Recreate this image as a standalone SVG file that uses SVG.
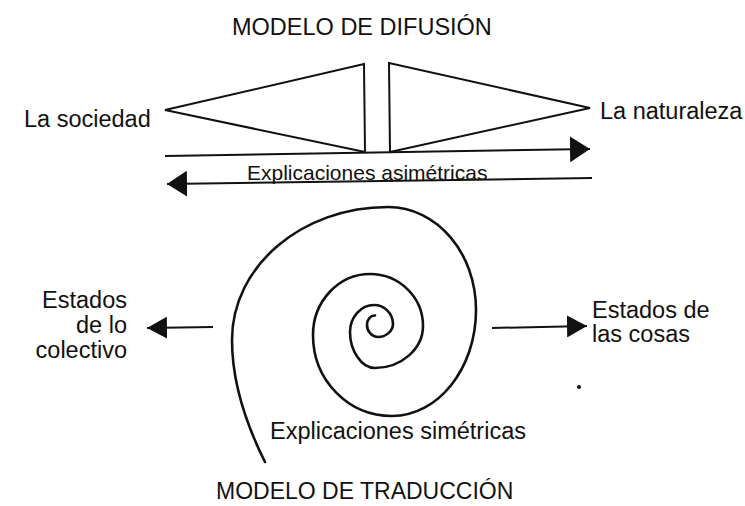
<svg xmlns="http://www.w3.org/2000/svg" width="745" height="506" viewBox="0 0 745 506">
  <style>
    .t { font-family: "Liberation Sans", Arial, Helvetica, sans-serif; font-size: 23.5px; fill: #111; }
    .s { font-size: 21px; }
    .b { font-size: 23px; }
    .ln { stroke: #111; stroke-width: 2; fill: none; }
    .sp { stroke: #111; stroke-width: 2.6; fill: none; stroke-linecap: round; }
    .tri { stroke: #111; stroke-width: 2; fill: none; stroke-linejoin: miter; }
  </style>
  <defs>
    <marker id="ah" viewBox="0 0 20 22" refX="20" refY="11" markerWidth="20" markerHeight="22" markerUnits="userSpaceOnUse" orient="auto">
      <path d="M0,0 L20,11 L0,22 z" fill="#111"/>
    </marker>
    <marker id="ahL" viewBox="0 0 20 26" refX="20" refY="13" markerWidth="20" markerHeight="26" markerUnits="userSpaceOnUse" orient="auto">
      <path d="M0,0 L20,13 L0,26 z" fill="#111"/>
    </marker>
  </defs>
  <rect width="745" height="506" fill="#fff"/>

  <g id="title-difusion"><text class="t" x="232" y="35">MODELO DE DIFUSIÓN</text></g>
  <g id="sociedad"><text class="t" x="24" y="127">La sociedad</text></g>
  <g id="naturaleza"><text class="t" x="600" y="119">La naturaleza</text></g>

  <g id="triangulo-sociedad"><polygon class="tri" points="165,110 364,64 365,152"/></g>
  <g id="triangulo-naturaleza"><polygon class="tri" points="389,63 390,152 590,108"/></g>

  <g id="asimetricas"><text class="t s" x="247" y="180">Explicaciones asimétricas</text></g>

  <g id="estados-colectivo">
    <text class="t" x="127" y="308" text-anchor="end">Estados</text>
    <text class="t" x="127" y="333" text-anchor="end">de lo</text>
    <text class="t" x="127" y="358" text-anchor="end">colectivo</text>
  </g>
  <g id="estados-cosas">
    <text class="t" x="592" y="318">Estados de</text>
    <text class="t" x="592" y="342">las cosas</text>
  </g>

  <g id="espiral">
    <path class="sp" d="M265,462 C252,436 232,390 232,340 C232,266 302,207 388,207 C437,207 476,253 476,310 C476,368.5 438,416 392,416 C348,416 313,380 313,335 C313,301 339,274 370,274 C399,274 423,297 423,326 C423,349 401,368 375,368 C361,368 350,350 350,332 C350,317 361,305 374,305 C384.5,305 393,313.5 393,324 C393,331 386,337 378,337 C372,337 367,331.6 367,325 C367,319 371,315 375,315.5"/>
  </g>
  <g id="simetricas"><text class="t" x="270" y="439">Explicaciones simétricas</text></g>
  <g id="title-traduccion"><text class="t b" x="216" y="499">MODELO DE TRADUCCIÓN</text></g>

  <g id="connectors">
    <line class="ln" x1="165" y1="156" x2="590" y2="149" marker-end="url(#ahL)"/>
    <line class="ln" x1="592" y1="178" x2="167" y2="184" marker-end="url(#ahL)"/>
    <line class="ln" x1="213" y1="327" x2="147" y2="328" marker-end="url(#ah)"/>
    <line class="ln" x1="492" y1="328" x2="587" y2="326" marker-end="url(#ah)"/>
  </g>
  <circle cx="579" cy="387" r="2" fill="#111"/>
</svg>
